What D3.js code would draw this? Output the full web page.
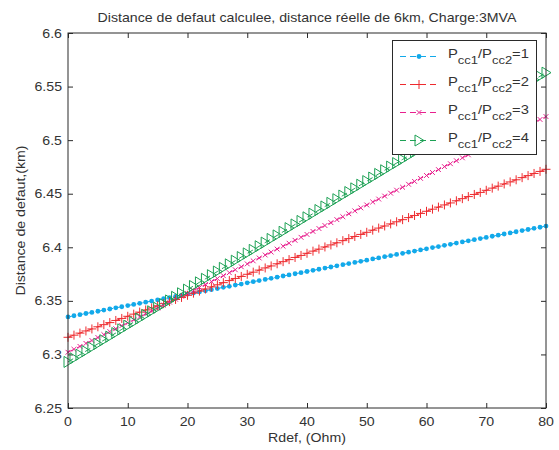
<!DOCTYPE html>
<html><head><meta charset="utf-8">
<script src="https://cdn.jsdelivr.net/npm/d3@7"></script>
<style>body{margin:0;background:#fff}svg{display:block}</style>
</head><body>
<script>
const rdef = d3.range(0, 81, 1);
const ratio1 = [6.3350,6.3361,6.3371,6.3382,6.3392,6.3403,6.3414,6.3424,6.3435,6.3445,
6.3456,6.3467,6.3477,6.3488,6.3498,6.3509,6.3520,6.3530,6.3541,6.3551,
6.3562,6.3573,6.3583,6.3594,6.3604,6.3615,6.3626,6.3636,6.3647,6.3657,
6.3668,6.3679,6.3689,6.3700,6.3710,6.3721,6.3732,6.3742,6.3753,6.3763,
6.3774,6.3785,6.3795,6.3806,6.3816,6.3827,6.3838,6.3848,6.3859,6.3869,
6.3880,6.3891,6.3901,6.3912,6.3922,6.3933,6.3944,6.3954,6.3965,6.3975,
6.3986,6.3997,6.4007,6.4018,6.4028,6.4039,6.4050,6.4060,6.4071,6.4081,
6.4092,6.4103,6.4113,6.4124,6.4134,6.4145,6.4156,6.4166,6.4177,6.4187,
6.4198];
const ratio2 = [6.3160,6.3180,6.3199,6.3219,6.3238,6.3258,6.3278,6.3297,6.3317,6.3336,
6.3356,6.3376,6.3395,6.3415,6.3434,6.3454,6.3474,6.3493,6.3513,6.3532,
6.3552,6.3572,6.3591,6.3611,6.3630,6.3650,6.3670,6.3689,6.3709,6.3728,
6.3748,6.3768,6.3787,6.3807,6.3826,6.3846,6.3866,6.3885,6.3905,6.3924,
6.3944,6.3964,6.3983,6.4003,6.4022,6.4042,6.4062,6.4081,6.4101,6.4120,
6.4140,6.4160,6.4179,6.4199,6.4218,6.4238,6.4258,6.4277,6.4297,6.4316,
6.4336,6.4356,6.4375,6.4395,6.4414,6.4434,6.4454,6.4473,6.4493,6.4512,
6.4532,6.4552,6.4571,6.4591,6.4610,6.4630,6.4650,6.4669,6.4689,6.4708,
6.4728];
const ratio3 = [6.3020,6.3048,6.3075,6.3103,6.3130,6.3158,6.3185,6.3213,6.3240,6.3268,
6.3295,6.3323,6.3350,6.3378,6.3405,6.3433,6.3460,6.3488,6.3515,6.3543,
6.3570,6.3598,6.3625,6.3653,6.3680,6.3708,6.3735,6.3763,6.3790,6.3818,
6.3845,6.3873,6.3900,6.3928,6.3955,6.3983,6.4010,6.4038,6.4065,6.4093,
6.4120,6.4148,6.4175,6.4203,6.4230,6.4258,6.4285,6.4313,6.4340,6.4368,
6.4395,6.4423,6.4450,6.4478,6.4505,6.4533,6.4560,6.4588,6.4615,6.4643,
6.4670,6.4698,6.4725,6.4753,6.4780,6.4808,6.4835,6.4863,6.4890,6.4918,
6.4945,6.4973,6.5000,6.5028,6.5055,6.5083,6.5110,6.5138,6.5165,6.5193,
6.5220];
const ratio4 = [6.2930,6.2964,6.2998,6.3031,6.3065,6.3099,6.3133,6.3166,6.3200,6.3234,
6.3268,6.3301,6.3335,6.3369,6.3403,6.3436,6.3470,6.3504,6.3538,6.3571,
6.3605,6.3639,6.3673,6.3706,6.3740,6.3774,6.3808,6.3841,6.3875,6.3909,
6.3943,6.3976,6.4010,6.4044,6.4078,6.4111,6.4145,6.4179,6.4213,6.4246,
6.4280,6.4314,6.4348,6.4381,6.4415,6.4449,6.4483,6.4516,6.4550,6.4584,
6.4618,6.4651,6.4685,6.4719,6.4753,6.4786,6.4820,6.4854,6.4888,6.4921,
6.4955,6.4989,6.5023,6.5056,6.5090,6.5124,6.5158,6.5191,6.5225,6.5259,
6.5293,6.5326,6.5360,6.5394,6.5428,6.5461,6.5495,6.5529,6.5563,6.5596,
6.5630];
const xTicks = [0,10,20,30,40,50,60,70,80];
const yTicks = [6.25,6.3,6.35,6.4,6.45,6.5,6.55,6.6];
const yTickLabels = ["6.25","6.3","6.35","6.4","6.45","6.5","6.55","6.6"];
const seriesNames = ["1","2","3","4"];
const titleText = "Distance de defaut calculee, distance réelle de 6km, Charge:3MVA";
const xLabel = "Rdef, (Ohm)";
const yLabel = "Distance de defaut,(km)";

const W = 559, H = 450;
const m = {l:68, r:13, t:33, b:42};
const SX = 1.18;
const FONT = "'Liberation Sans', Arial, Helvetica, sans-serif";
const TXT = "#333";
const svg = d3.select("body").append("svg").attr("width", W).attr("height", H);

const x = d3.scaleLinear().domain([0,80]).range([m.l, W - m.r]);
const y = d3.scaleLinear().domain([6.25,6.6]).range([H - m.b, m.t]);

function txt(g, s, px, py, anchor, size, rot) {
  return g.append("text")
    .attr("transform", `translate(${px},${py})` + (rot ? ` rotate(${rot})` : "") + ` scale(${SX},1)`)
    .attr("text-anchor", anchor)
    .style("font-family", FONT).style("font-size", size + "px").attr("fill", TXT)
    .text(s);
}

// axes
const axCol = "#2a2a2a";
const gx = svg.append("g").attr("transform", `translate(0,${y(6.25)})`)
  .call(d3.axisBottom(x).tickValues(xTicks).tickSize(-5).tickFormat(""));
const gxt = svg.append("g").attr("transform", `translate(0,${y(6.6)})`)
  .call(d3.axisTop(x).tickValues(xTicks).tickSize(-5).tickFormat(""));
const gy = svg.append("g").attr("transform", `translate(${x(0)},0)`)
  .call(d3.axisLeft(y).tickValues(yTicks).tickSize(-5).tickFormat(""));
const gyr = svg.append("g").attr("transform", `translate(${x(80)},0)`)
  .call(d3.axisRight(y).tickValues(yTicks).tickSize(-5).tickFormat(""));
[gx,gxt,gy,gyr].forEach(g => {
  g.selectAll(".domain").remove();
  g.selectAll("line").attr("stroke", axCol).attr("stroke-width", 1);
});

xTicks.forEach(v => txt(svg, String(v), x(v), y(6.25) + 18, "middle", 12));
yTicks.forEach((v,i) => txt(svg, yTickLabels[i], x(0) - 6, y(v) + 4.5, "end", 12));

// series
const colors = ["#12a9ea", "#ee2a2e", "#e8208e", "#1da155"];
const allSeries = [ratio1, ratio2, ratio3, ratio4];
const line = d3.line().x((d,i) => x(rdef[i])).y(d => y(d));

function marker(g, k, cx, cy) {
  const c = colors[k];
  if (k === 0) g.append("circle").attr("cx", cx).attr("cy", cy).attr("r", 2.4).attr("fill", c);
  else if (k === 1) g.append("path").attr("d", `M${cx-4.5},${cy}H${cx+4.5}M${cx},${cy-4.5}V${cy+4.5}`).attr("stroke", c).attr("stroke-width", 1).attr("fill", "none");
  else if (k === 2) g.append("path").attr("d", `M${cx-2.4},${cy-2.4}L${cx+2.4},${cy+2.4}M${cx-2.4},${cy+2.4}L${cx+2.4},${cy-2.4}`).attr("stroke", c).attr("stroke-width", 1).attr("fill", "none");
  else g.append("path").attr("d", `M${cx-4},${cy-5.5}L${cx+5},${cy}L${cx-4},${cy+5.5}Z`).attr("stroke", c).attr("stroke-width", 1).attr("fill", "none");
}

const plot = svg.append("g");
allSeries.forEach((s, k) => {
  plot.append("path").datum(s).attr("d", line).attr("fill", "none")
    .attr("stroke", colors[k]).attr("stroke-width", 1).attr("stroke-dasharray", "6,4");
  const mg = plot.append("g");
  s.forEach((v, i) => marker(mg, k, x(rdef[i]), y(v)));
});

// frame
svg.append("rect").attr("x", x(0)).attr("y", y(6.6)).attr("width", x(80) - x(0)).attr("height", y(6.25) - y(6.6))
  .attr("fill", "none").attr("stroke", axCol).attr("stroke-width", 1);

// legend
const lg = svg.append("g");
lg.append("rect").attr("x", 392.5).attr("y", 40.5).attr("width", 144).attr("height", 114)
  .attr("fill", "#fff").attr("stroke", axCol).attr("stroke-width", 1);
seriesNames.forEach((n, k) => {
  const by = 58 + k * 28;
  const ly = by - 1.5;
  lg.append("line").attr("x1", 400).attr("x2", 438).attr("y1", ly).attr("y2", ly)
    .attr("stroke", colors[k]).attr("stroke-width", 1).attr("stroke-dasharray", "6,4");
  marker(lg, k, 419, ly);
  const t = lg.append("text")
    .attr("transform", `translate(448,${by}) scale(${SX},1)`)
    .style("font-family", FONT).style("font-size", "12.5px").attr("fill", TXT);
  t.append("tspan").text("P");
  t.append("tspan").attr("dy", 5.5).style("font-size", "11px").text("cc1");
  t.append("tspan").attr("dy", -5.5).text("/P");
  t.append("tspan").attr("dy", 5.5).style("font-size", "11px").text("cc2");
  t.append("tspan").attr("dy", -5.5).text("=" + n);
});

// titles
txt(svg, titleText, (x(0) + x(80)) / 2, 22, "middle", 12);
txt(svg, xLabel, (x(0) + x(80)) / 2, 442, "middle", 12);
txt(svg, yLabel, 25, (y(6.25) + y(6.6)) / 2, "middle", 12, -90);
</script>
</body></html>
